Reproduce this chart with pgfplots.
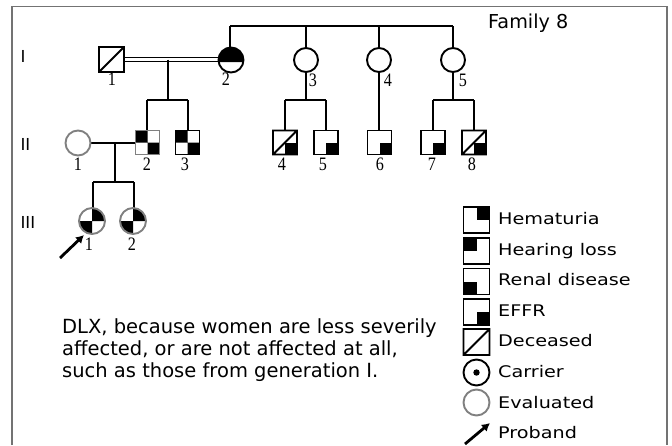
\documentclass[border=0pt]{standalone}
\usepackage{fontspec}
\setmainfont{DejaVu Sans}
\newfontfamily\legf[FakeStretch=1.2]{DejaVu Sans}
\newfontfamily\numf[FakeStretch=0.85]{Liberation Serif}
\usepackage{pgfplots}
\pgfplotsset{compat=1.18}
\usetikzlibrary{arrows.meta}

% ---------- helper paths for plot marks ----------
\newcommand\mkSq{\pgfpathrectangle{\pgfpoint{-\pgfplotmarksize}{-\pgfplotmarksize}}{\pgfpoint{2\pgfplotmarksize}{2\pgfplotmarksize}}}
\newcommand\mkTL{\pgfpathrectangle{\pgfpoint{-\pgfplotmarksize}{0pt}}{\pgfpoint{\pgfplotmarksize}{\pgfplotmarksize}}}
\newcommand\mkTR{\pgfpathrectangle{\pgfpoint{0pt}{0pt}}{\pgfpoint{\pgfplotmarksize}{\pgfplotmarksize}}}
\newcommand\mkBL{\pgfpathrectangle{\pgfpoint{-\pgfplotmarksize}{-\pgfplotmarksize}}{\pgfpoint{\pgfplotmarksize}{\pgfplotmarksize}}}
\newcommand\mkBR{\pgfpathrectangle{\pgfpoint{0pt}{-\pgfplotmarksize}}{\pgfpoint{\pgfplotmarksize}{\pgfplotmarksize}}}
\newcommand\mkDiag{\pgfpathmoveto{\pgfpoint{-\pgfplotmarksize}{-\pgfplotmarksize}}\pgfpathlineto{\pgfpoint{\pgfplotmarksize}{\pgfplotmarksize}}}
\newcommand\mkWhiteSq{\pgfsetfillcolor{white}\mkSq\pgfusepath{fill}}
\newcommand\mkCi{\pgfpathcircle{\pgfpointorigin}{\pgfplotmarksize}}
\newcommand\mkWhiteCi{\pgfsetfillcolor{white}\mkCi\pgfusepath{fill}}

\pgfdeclareplotmark{sqDec}{\mkWhiteSq\mkSq\mkDiag\pgfusepath{stroke}}
\pgfdeclareplotmark{sqTLBR}{\mkWhiteSq\pgfsetfillcolor{black}\mkTL\mkBR\pgfusepath{fill}\mkSq\pgfusepath{stroke}}
\pgfdeclareplotmark{sqDecBR}{\mkWhiteSq\pgfsetfillcolor{black}\mkBR\pgfusepath{fill}\mkSq\mkDiag\pgfusepath{stroke}}
\pgfdeclareplotmark{sqBR}{\mkWhiteSq\pgfsetfillcolor{black}\mkBR\pgfusepath{fill}\mkSq\pgfusepath{stroke}}
\pgfdeclareplotmark{sqTR}{\mkWhiteSq\pgfsetfillcolor{black}\mkTR\pgfusepath{fill}\mkSq\pgfusepath{stroke}}
\pgfdeclareplotmark{sqTL}{\mkWhiteSq\pgfsetfillcolor{black}\mkTL\pgfusepath{fill}\mkSq\pgfusepath{stroke}}
\pgfdeclareplotmark{sqBL}{\mkWhiteSq\pgfsetfillcolor{black}\mkBL\pgfusepath{fill}\mkSq\pgfusepath{stroke}}
\pgfdeclareplotmark{ciOpen}{\mkWhiteCi\mkCi\pgfusepath{stroke}}
\pgfdeclareplotmark{ciHalf}{\mkWhiteCi\pgfsetfillcolor{black}%
  \pgfpathmoveto{\pgfpointpolar{-10}{\pgfplotmarksize}}\pgfpatharc{-10}{190}{\pgfplotmarksize}\pgfpathclose\pgfusepath{fill}%
  \mkCi\pgfusepath{stroke}}
\pgfdeclareplotmark{ciTRBL}{\mkWhiteCi\pgfsetfillcolor{black}%
  \pgfpathmoveto{\pgfpointorigin}\pgfpathlineto{\pgfpoint{\pgfplotmarksize}{0pt}}\pgfpatharc{0}{90}{\pgfplotmarksize}\pgfpathclose
  \pgfpathmoveto{\pgfpointorigin}\pgfpathlineto{\pgfpoint{-\pgfplotmarksize}{0pt}}\pgfpatharc{180}{270}{\pgfplotmarksize}\pgfpathclose
  \pgfusepath{fill}\mkCi\pgfusepath{stroke}}
\pgfdeclareplotmark{ciDot}{\mkWhiteCi\pgfsetfillcolor{black}\pgfpathcircle{\pgfpointorigin}{3.2pt}\pgfusepath{fill}\mkCi\pgfusepath{stroke}}

\definecolor{frame}{gray}{0.45}
\definecolor{evalgray}{gray}{0.5}

\begin{document}
\begin{tikzpicture}
\begin{axis}[
  scale only axis, width=672pt, height=445pt,
  xmin=0, xmax=672, ymin=0, ymax=445, y dir=reverse,
  hide axis, clip=false,
  ln/.style={black, line width=1.9pt, mark=none},
  sym/.style={only marks, mark options={line width=1.9pt, solid}},
]
% bounding helper
\addplot[draw=none, mark=none] coordinates {(0,0) (672,445)};
% frame
\addplot[frame, line width=1.2pt, mark=none] coordinates {(12,445) (12,6.5) (667,6.5) (667,445)};

% ---------- generation I lines ----------
\addplot[ln] coordinates {(230,26) (453,26)};
\addplot[ln] coordinates {(230,26) (230,48)};
\addplot[ln] coordinates {(306,26) (306,48)};
\addplot[ln] coordinates {(379,26) (379,48)};
\addplot[ln] coordinates {(453,26) (453,48)};
% consanguineous marriage I-1 x I-2
\addplot[black, line width=1.4pt, mark=none] coordinates {(124,57.5) (219,57.5)};
\addplot[black, line width=1.4pt, mark=none] coordinates {(124,61.5) (219,61.5)};
% offspring of I-1 x I-2
\addplot[ln] coordinates {(168,59.5) (168,100)};
\addplot[ln] coordinates {(147,100) (188,100)};
\addplot[ln] coordinates {(147,100) (147,130)};
\addplot[ln] coordinates {(188,100) (188,130)};
% offspring of I-3
\addplot[ln] coordinates {(306,72) (306,100)};
\addplot[ln] coordinates {(285,100) (326,100)};
\addplot[ln] coordinates {(285,100) (285,130)};
\addplot[ln] coordinates {(326,100) (326,130)};
% offspring of I-4
\addplot[ln] coordinates {(379,72) (379,130)};
% offspring of I-5
\addplot[ln] coordinates {(453,72) (453,100)};
\addplot[ln] coordinates {(433,100) (474,100)};
\addplot[ln] coordinates {(433,100) (433,130)};
\addplot[ln] coordinates {(474,100) (474,130)};
% marriage II-1 x II-2 and offspring
\addplot[ln] coordinates {(90,143) (135,143)};
\addplot[ln] coordinates {(115,143) (115,182)};
\addplot[ln] coordinates {(93,182) (134,182)};
\addplot[ln] coordinates {(93,182) (93,208)};
\addplot[ln] coordinates {(134,182) (134,208)};

% ---------- symbols ----------
\addplot[sym, black, mark=sqDec, mark size=12.5pt] coordinates {(111.5,59.5)};
\addplot[sym, black, mark=ciHalf, mark size=12.5pt] coordinates {(231,60)};
\addplot[sym, black, mark=ciOpen, mark size=12pt] coordinates {(306,60) (379,60) (453,60)};
\addplot[sym, evalgray, mark=ciOpen, mark size=12.5pt] coordinates {(78,143)};
\addplot[sym, evalgray, mark=sqTLBR, mark size=12pt] coordinates {(147.5,142.5)};
\addplot[sym, black, mark=sqTLBR, mark size=12pt] coordinates {(187.5,142.5)};
\addplot[sym, black, mark=sqDecBR, mark size=12pt] coordinates {(285,142.5) (474,142.5)};
\addplot[sym, black, mark=sqBR, mark size=12pt] coordinates {(326,142.5) (379.5,142.5) (433,142.5)};
\addplot[sym, evalgray, mark=ciTRBL, mark size=13pt] coordinates {(92,221) (133,221)};

% proband arrow
\addplot[black, line width=2.8pt, mark=none, -{Latex[length=8pt,width=9pt]}] coordinates {(60,258) (84,235)};

% ---------- legend symbols ----------
\addplot[sym, black, mark=sqTR, mark size=13pt] coordinates {(476.5,220)};
\addplot[sym, black, mark=sqTL, mark size=13pt] coordinates {(476.5,251)};
\addplot[sym, black, mark=sqBL, mark size=13pt] coordinates {(476.5,281.5)};
\addplot[sym, black, mark=sqBR, mark size=13pt] coordinates {(476.5,312)};
\addplot[sym, black, mark=sqDec, mark size=13pt] coordinates {(476.5,342)};
\addplot[sym, black, mark=ciDot, mark size=13pt] coordinates {(476.5,372.5)};
\addplot[sym, evalgray, mark=ciOpen, mark size=13pt] coordinates {(476.5,402.5)};
\addplot[black, line width=2.8pt, mark=none, -{Latex[length=8pt,width=9pt]}] coordinates {(465,444) (490,423)};

% ---------- texts ----------
\node[anchor=base west, font=\fontsize{16.5pt}{18pt}\selectfont] at (axis cs:17,62) {I};
\node[anchor=base west, font=\fontsize{16.5pt}{18pt}\selectfont] at (axis cs:17,150) {II};
\node[anchor=base west, font=\fontsize{16.5pt}{18pt}\selectfont] at (axis cs:17,228) {III};

\begin{scope}[every node/.style={anchor=base, inner sep=0pt, font=\numf\fontsize{19pt}{20pt}\selectfont}]
\node at (axis cs:112,85) {1};
\node at (axis cs:226,85) {2};
\node at (axis cs:313,86) {3};
\node at (axis cs:388,86) {4};
\node at (axis cs:463,86) {5};
\node at (axis cs:78,170) {1};
\node at (axis cs:147,170) {2};
\node at (axis cs:185,170) {3};
\node at (axis cs:282,170) {4};
\node at (axis cs:323,170) {5};
\node at (axis cs:380,170) {6};
\node at (axis cs:432,170) {7};
\node at (axis cs:472,170) {8};
\node at (axis cs:89,250) {1};
\node at (axis cs:132,250) {2};
\end{scope}

\node[anchor=base west, inner sep=0pt, font=\fontsize{19.2pt}{22pt}\selectfont] at (axis cs:488,28) {Family 8};

\begin{scope}[every node/.style={anchor=base west, inner sep=0pt, font=\legf\fontsize{16pt}{18pt}\selectfont}]
\node at (axis cs:498,224.5) {Hematuria};
\node at (axis cs:498,255) {Hearing loss};
\node at (axis cs:498,285.5) {Renal disease};
\node at (axis cs:498,316) {EFFR};
\node at (axis cs:498,346.5) {Deceased};
\node at (axis cs:498,377.5) {Carrier};
\node at (axis cs:498,408) {Evaluated};
\node at (axis cs:498,438) {Proband};
\end{scope}

\begin{scope}[every node/.style={anchor=base west, inner sep=0pt, font=\fontsize{19.5pt}{22pt}\selectfont}]
\node at (axis cs:62,333) {DLX, because women are less severily};
\node at (axis cs:62,355) {affected, or are not affected at all,};
\node at (axis cs:62,377) {such as those from generation I.};
\end{scope}
\end{axis}
\end{tikzpicture}
\end{document}
